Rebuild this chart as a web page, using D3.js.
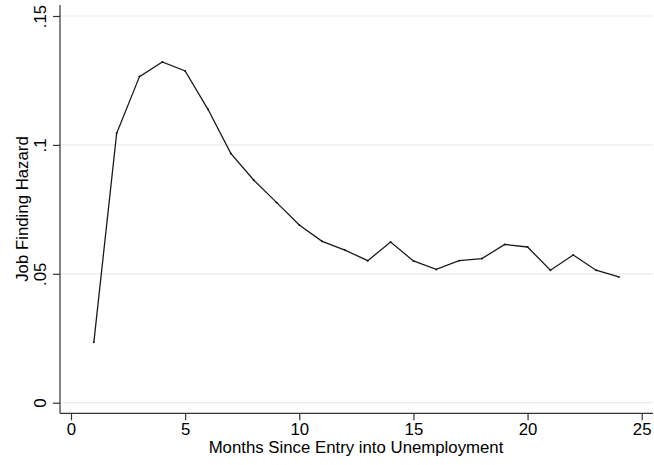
<!DOCTYPE html>
<html><head><meta charset="utf-8">
<script src="https://cdn.jsdelivr.net/npm/d3@7"></script>
<style>body{margin:0;background:#fff}svg{display:block}text{font-family:"Liberation Sans",Arial,sans-serif;fill:#000}</style>
</head><body><svg id="c" width="654" height="465"></svg>
<script>
const months = [1,2,3,4,5,6,7,8,9,10,11,12,13,14,15,16,17,18,19,20,21,22,23,24];
const hazard = [0.0234,0.1045,0.1265,0.1322,0.1287,0.1138,0.0967,0.0864,0.0777,0.0689,0.0626,0.0592,0.0551,0.0623,0.0550,0.0517,0.0551,0.0559,0.0614,0.0604,0.0514,0.0573,0.0514,0.0488];
const xTicks = [0,5,10,15,20,25];
const yTicks = [0,0.05,0.1,0.15];
const yTickLabels = ["0",".05",".1",".15"];
const xTitle = "Months Since Entry into Unemployment";
const yTitle = "Job Finding Hazard";

(function(){
const svg = d3.select("#c");
const pl = 60, pr = 653, pt = 5, pb = 413.3;
const x = d3.scaleLinear().domain([0,25]).range([71,641.7]);
const y = d3.scaleLinear().domain([0,0.15]).range([402.7,16]);
const fs = 16.8;

// grid
svg.append("g").selectAll("line").data(yTicks).join("line")
  .attr("x1",pl).attr("x2",pr).attr("y1",d=>y(d)).attr("y2",d=>y(d))
  .attr("stroke","#e6eef1").attr("stroke-width",1.2);

// x axis
const gx = svg.append("g").attr("transform",`translate(0,${pb})`)
  .call(d3.axisBottom(x).tickValues(xTicks).tickSize(7).tickPadding(2.6).tickSizeOuter(0));
gx.select(".domain").remove();
gx.selectAll("line").attr("stroke","#333").attr("stroke-width",1.2);
gx.selectAll("text").attr("font-size",fs).attr("font-family","Liberation Sans, Arial, sans-serif").attr("fill","#000");
svg.append("line").attr("x1",pl).attr("x2",pr).attr("y1",pb).attr("y2",pb).attr("stroke","#333").attr("stroke-width",1.2);

// y axis
const gy = svg.append("g").attr("transform",`translate(${pl},0)`)
  .call(d3.axisLeft(y).tickValues(yTicks).tickFormat((d,i)=>yTickLabels[i]).tickSize(7).tickSizeOuter(0));
gy.select(".domain").remove();
gy.selectAll("line").attr("stroke","#333").attr("stroke-width",1.2);
gy.selectAll("text").attr("font-size",fs).attr("font-family","Liberation Sans, Arial, sans-serif").attr("fill","#000")
  .attr("x",0).attr("y",0).attr("dy",null).attr("text-anchor","middle")
  .attr("transform","translate(-14,0) rotate(-90)");
svg.append("line").attr("x1",pl).attr("x2",pl).attr("y1",pt).attr("y2",pb).attr("stroke","#333").attr("stroke-width",1.2);

// line
const data = months.map((m,i)=>({m,v:hazard[i]}));
svg.append("path").datum(data)
  .attr("d",d3.line().x(d=>x(d.m)).y(d=>y(d.v)))
  .attr("fill","none").attr("stroke","#1a1a1a").attr("stroke-width",1.3);
svg.append("g").selectAll("circle").data(data).join("circle")
  .attr("cx",d=>x(d.m)).attr("cy",d=>y(d.v)).attr("r",1).attr("fill","#1a1a1a");

// titles
svg.append("text").attr("x",356).attr("y",453.3).attr("text-anchor","middle").attr("font-size",fs).text(xTitle);
svg.append("text").attr("transform",`translate(28,209) rotate(-90)`).attr("text-anchor","middle").attr("font-size",fs).text(yTitle);
})();
</script></body></html>
